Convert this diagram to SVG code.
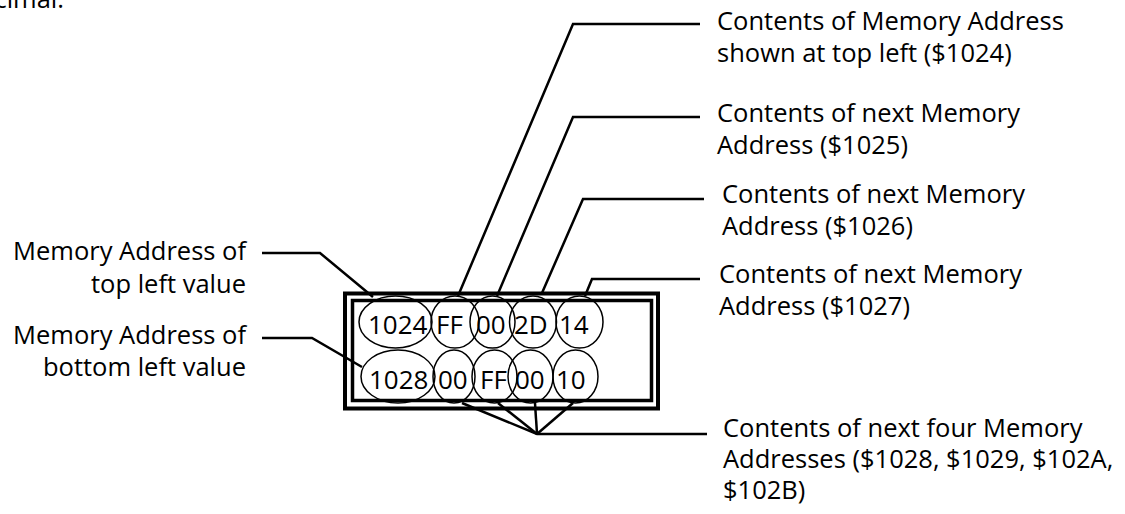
<svg xmlns="http://www.w3.org/2000/svg" width="1125" height="514" viewBox="0 0 1125 514">
<style>
  text { font-family: "Open Sans", "Liberation Sans", sans-serif; font-size: 25.5px; fill: #000; }
  .cell { font-size: 26px; }
  .line { fill: none; stroke: #000; stroke-width: 2.5; stroke-linejoin: miter; }
  .ell { fill: none; stroke: #000; stroke-width: 1.5; }
  .box-outer { fill: #fff; stroke: #000; stroke-width: 4; }
  .box-inner { fill: none; stroke: #000; stroke-width: 3.5; }
  .r { text-anchor: end; }
</style>
<rect width="1125" height="514" fill="#fff"/>

<text id="caption-fragment" class="r" x="64" y="8">cimal.</text>

<g id="memory-box">
  <rect class="box-outer" x="345" y="293.5" width="313" height="115"/>
  <rect class="box-inner" x="352.5" y="300.5" width="299" height="100"/>
</g>

<g id="row1">
  <g id="cell-1024"><ellipse class="ell" cx="395.5" cy="322" rx="36.5" ry="26"/><text class="cell" x="368" y="334">1024</text></g>
  <g id="cell-FF-1"><ellipse class="ell" cx="455" cy="322" rx="24" ry="26"/><text class="cell" x="436" y="334">FF</text></g>
  <g id="cell-00-1"><ellipse class="ell" cx="492.5" cy="322" rx="22.5" ry="26"/><text class="cell" x="476" y="334">00</text></g>
  <g id="cell-2D"><ellipse class="ell" cx="533" cy="322" rx="23.5" ry="26"/><text class="cell" x="514" y="334">2D</text></g>
  <g id="cell-14"><ellipse class="ell" cx="579.5" cy="322" rx="23.5" ry="26"/><text class="cell" x="559" y="334">14</text></g>
</g>

<g id="row2">
  <g id="cell-1028"><ellipse class="ell" cx="398" cy="376.5" rx="37" ry="26.5"/><text class="cell" x="369" y="389">1028</text></g>
  <g id="cell-00-2"><ellipse class="ell" cx="454" cy="376.5" rx="21" ry="26.5"/><text class="cell" x="438" y="389">00</text></g>
  <g id="cell-FF-2"><ellipse class="ell" cx="494.5" cy="376.5" rx="22.5" ry="26.5"/><text class="cell" x="480" y="389">FF</text></g>
  <g id="cell-00-3"><ellipse class="ell" cx="530.5" cy="376.5" rx="22.5" ry="26.5"/><text class="cell" x="515" y="389">00</text></g>
  <g id="cell-10"><ellipse class="ell" cx="575.5" cy="376.5" rx="22.5" ry="26.5"/><text class="cell" x="556" y="389">10</text></g>
</g>

<g id="connectors">
  <polyline class="line" points="700,24 573,24 458,296"/>
  <polyline class="line" points="700,117 573,117 497,296"/>
  <polyline class="line" points="704,199 583,199 542,293"/>
  <polyline class="line" points="700,279 592,279 585,296"/>
  <polyline class="line" points="262,253 320,253 373,297"/>
  <polyline class="line" points="262,338 312,338 362,367"/>
  <polyline class="line" points="707,434 537,434 462,403"/>
  <line class="line" x1="537" y1="434" x2="498" y2="403"/>
  <line class="line" x1="537" y1="434" x2="535" y2="403"/>
  <line class="line" x1="537" y1="434" x2="573" y2="403"/>
</g>

<g id="label-top-left">
  <text class="r" x="246" y="260">Memory Address of</text>
  <text class="r" x="246" y="293">top left value</text>
</g>
<g id="label-bottom-left">
  <text class="r" x="246" y="344">Memory Address of</text>
  <text class="r" x="246" y="376">bottom left value</text>
</g>
<g id="label-1024">
  <text x="717" y="30">Contents of Memory Address</text>
  <text x="717" y="62">shown at top left ($1024)</text>
</g>
<g id="label-1025">
  <text x="717" y="122">Contents of next Memory</text>
  <text x="717" y="154">Address ($1025)</text>
</g>
<g id="label-1026">
  <text x="722" y="203">Contents of next Memory</text>
  <text x="722" y="235">Address ($1026)</text>
</g>
<g id="label-1027">
  <text x="719" y="283">Contents of next Memory</text>
  <text x="719" y="315">Address ($1027)</text>
</g>
<g id="label-next-four">
  <text x="723" y="437">Contents of next four Memory</text>
  <text x="723" y="468">Addresses ($1028, $1029, $102A,</text>
  <text x="723" y="499">$102B)</text>
</g>
</svg>
